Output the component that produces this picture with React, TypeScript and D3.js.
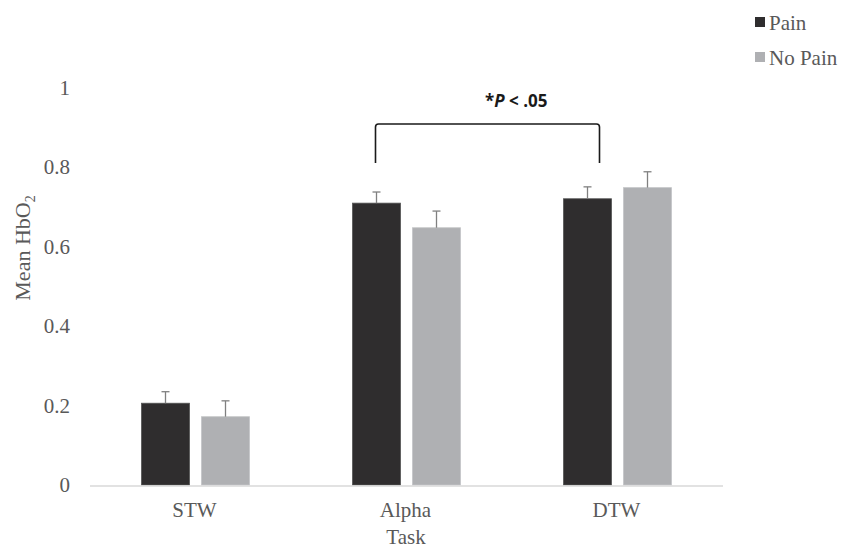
import React, { useEffect, useRef } from "react";
import * as d3 from "d3";

const tasks = ["STW", "Alpha", "DTW"];
const groups = ["Pain", "No Pain"];
const painMeans = [0.206, 0.71, 0.721];
const noPainMeans = [0.172, 0.648, 0.749];
const painErr = [0.029, 0.028, 0.03];
const noPainErr = [0.04, 0.042, 0.04];
const yTicks = [0, 0.2, 0.4, 0.6, 0.8, 1];
const colors = ["#2f2d2e", "#afb0b3"];

function App() {
  const canvas = useRef<HTMLDivElement>(null);

  useEffect(() => {
    const width = 841;
    const height = 550;
    const root = d3.select(canvas.current);
    root.selectAll("*").remove();

    const svg = root
      .append("svg")
      .attr("width", width)
      .attr("height", height)
      .style("position", "absolute")
      .style("left", 0)
      .style("top", 0)
      .style("font-family", "'Liberation Serif', 'Times New Roman', serif");

    const x = d3.scaleBand().domain(tasks).range([90, 723]);
    const inner = 108;
    const xs = d3.scaleBand().domain(groups).range([0, inner]).paddingInner(0.2);
    const off = (x.bandwidth() - inner) / 2;
    const y = d3.scaleLinear().domain([0, 1]).range([485, 88]);
    const fs = "21px";
    const txt = "#595959";

    // y tick labels (no axis line)
    svg
      .append("g")
      .selectAll("text")
      .data(yTicks)
      .enter()
      .append("text")
      .attr("x", 70)
      .attr("y", (d) => y(d) + 7)
      .attr("text-anchor", "end")
      .attr("fill", txt)
      .style("font-size", fs)
      .text((d) => d3.format("")(d));

    const rows = tasks.map((t, i) => [
      { task: t, g: groups[0], v: painMeans[i], e: painErr[i], c: colors[0] },
      { task: t, g: groups[1], v: noPainMeans[i], e: noPainErr[i], c: colors[1] },
    ]).flat();

    const bars = svg.append("g");
    bars
      .selectAll("rect")
      .data(rows)
      .enter()
      .append("rect")
      .attr("x", (d) => x(d.task)! + off + xs(d.g)!)
      .attr("y", (d) => y(d.v))
      .attr("width", xs.bandwidth())
      .attr("height", (d) => y(0) - y(d.v))
      .attr("fill", (d) => d.c)
      .attr("stroke", (d, i) => (i % 2 === 0 ? "#555" : "#c4c5c7"))
      .attr("stroke-width", 0.8);

    // error bars, upward only
    const err = svg.append("g").attr("stroke", "#808080").attr("stroke-width", 1.3);
    rows.forEach((d) => {
      const cx = x(d.task)! + off + xs(d.g)! + xs.bandwidth() / 2;
      err.append("line").attr("x1", cx).attr("x2", cx).attr("y1", y(d.v)).attr("y2", y(d.v + d.e));
      err.append("line").attr("x1", cx - 4).attr("x2", cx + 4).attr("y1", y(d.v + d.e)).attr("y2", y(d.v + d.e));
    });

    // x axis line
    svg
      .append("line")
      .attr("x1", 90)
      .attr("x2", 723)
      .attr("y1", y(0) + 1)
      .attr("y2", y(0) + 1)
      .attr("stroke", "#d9d9d9")
      .attr("stroke-width", 1.5);

    svg
      .append("g")
      .selectAll("text")
      .data(tasks)
      .enter()
      .append("text")
      .attr("x", (d) => x(d)! + x.bandwidth() / 2 - 1)
      .attr("y", 517)
      .attr("text-anchor", "middle")
      .attr("fill", txt)
      .style("font-size", fs)
      .text((d) => d);

    svg
      .append("text")
      .attr("x", 406)
      .attr("y", 544)
      .attr("text-anchor", "middle")
      .attr("fill", txt)
      .style("font-size", fs)
      .text("Task");

    const yl = svg
      .append("text")
      .attr("transform", "translate(30,248) rotate(-90)")
      .attr("text-anchor", "middle")
      .attr("fill", txt)
      .style("font-size", "22px");
    yl.append("tspan").text("Mean HbO");
    yl.append("tspan").attr("dy", 5).style("font-size", "14px").text("2");

    // significance bracket
    const bx1 = x("Alpha")! + off + xs("Pain")! + xs.bandwidth() / 2 - 1;
    const bx2 = x("DTW")! + off + xs("Pain")! + xs.bandwidth() / 2 + 12;
    const by = 124;
    const bb = 163;
    const r = 3;
    svg
      .append("path")
      .attr(
        "d",
        `M${bx1},${bb} L${bx1},${by + r} Q${bx1},${by} ${bx1 + r},${by} L${bx2 - r},${by} Q${bx2},${by} ${bx2},${by + r} L${bx2},${bb}`
      )
      .attr("fill", "none")
      .attr("stroke", "#1a1a1a")
      .attr("stroke-width", 1.6);

    const sig = svg
      .append("text")
      .attr("x", 485)
      .attr("y", 107)
      .attr("fill", "#1a1a1a")
      .style("font-family", "'Open Sans', 'Liberation Sans', sans-serif")
      .style("font-weight", "bold")
      .style("font-size", "17px");
    sig.append("tspan").text("*");
    sig.append("tspan").style("font-style", "italic").text("P");
    sig.append("tspan").text(" < .05");

    // legend
    const leg = svg.append("g");
    groups.forEach((g, i) => {
      const ly = 22 + i * 35;
      leg
        .append("rect")
        .attr("x", 755)
        .attr("y", ly - 5)
        .attr("width", 10)
        .attr("height", 10)
        .attr("fill", colors[i]);
      leg
        .append("text")
        .attr("x", 769)
        .attr("y", ly + 8)
        .attr("fill", txt)
        .style("font-size", fs)
        .text(g);
    });
  }, []);

  return <div ref={canvas}></div>;
}

export default App;
